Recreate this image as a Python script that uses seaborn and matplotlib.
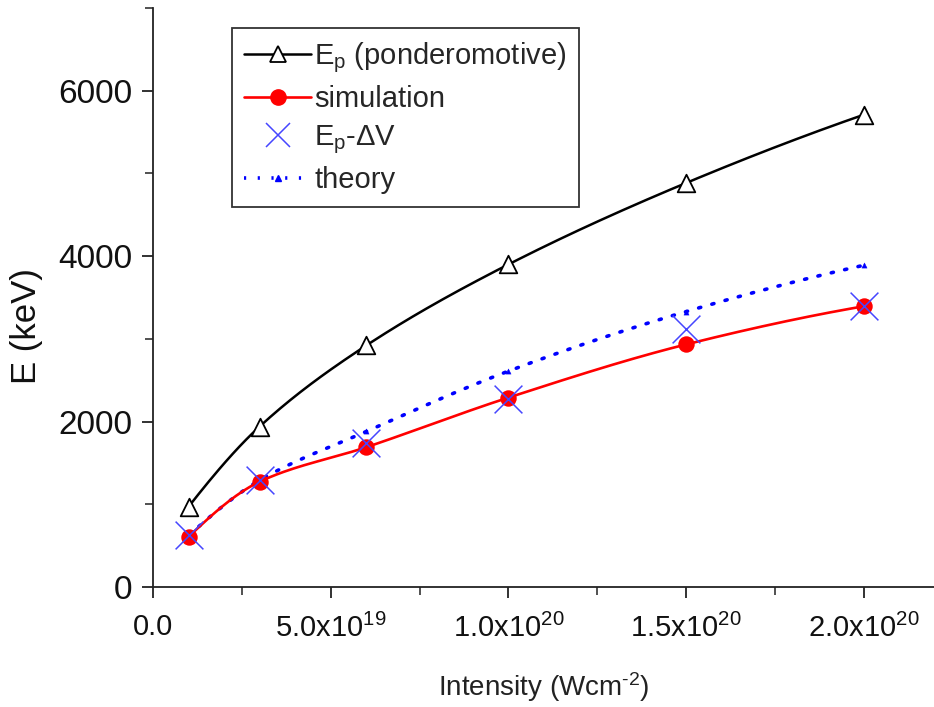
import numpy as np
import pandas as pd
import matplotlib
matplotlib.use("Agg")
import matplotlib.pyplot as plt
from matplotlib import font_manager
from matplotlib.lines import Line2D
from matplotlib.ticker import MultipleLocator, FixedLocator, FixedFormatter
import seaborn as sns

# ---- data ----
intensity = [1.0e19, 3.0e19, 6.0e19, 1.0e20, 1.5e20, 2.0e20]
e_ponderomotive = [970, 1940, 2920, 3900, 4885, 5710]
e_simulation = [606, 1273, 1690, 2290, 2933, 3394]
e_p_minus_dv = [630, 1297, 1745, 2267, 3115, 3394]
e_theory = [620, 1290, 1880, 2610, 3330, 3890]

x_tick_values = [0.0, 5.0e19, 1.0e20, 1.5e20, 2.0e20]
x_tick_labels = ["0.0", "5.0x10$^{19}$", "1.0x10$^{20}$", "1.5x10$^{20}$", "2.0x10$^{20}$"]
y_tick_values = [0, 2000, 4000, 6000]

sns.set_theme(style="ticks")

names = {f.name for f in font_manager.fontManager.ttflist}
regular = "Liberation Sans" if "Liberation Sans" in names else "DejaVu Sans"
plt.rcParams["font.family"] = [regular, "DejaVu Sans"]
plt.rcParams["mathtext.fontset"] = "custom"
plt.rcParams["mathtext.rm"] = regular
plt.rcParams["mathtext.it"] = regular
plt.rcParams["mathtext.default"] = "regular"


def smooth(xs, ys, n=200):
    """Monotone cubic (PCHIP) curve through the given points."""
    x = np.asarray(xs, float) / 1e19
    y = np.asarray(ys, float)
    h = np.diff(x)
    d = np.diff(y) / h
    k = len(x)
    m = np.zeros(k)
    for i in range(1, k - 1):
        if d[i - 1] * d[i] > 0:
            w1 = 2 * h[i] + h[i - 1]
            w2 = h[i] + 2 * h[i - 1]
            m[i] = (w1 + w2) / (w1 / d[i - 1] + w2 / d[i])
    m[0] = ((2 * h[0] + h[1]) * d[0] - h[0] * d[1]) / (h[0] + h[1])
    if np.sign(m[0]) != np.sign(d[0]):
        m[0] = 0
    m[-1] = ((2 * h[-1] + h[-2]) * d[-1] - h[-1] * d[-2]) / (h[-1] + h[-2])
    if np.sign(m[-1]) != np.sign(d[-1]):
        m[-1] = 0
    xx = np.linspace(x[0], x[-1], n)
    idx = np.clip(np.searchsorted(x, xx) - 1, 0, k - 2)
    hh = h[idx]
    t = (xx - x[idx]) / hh
    h00 = 2 * t ** 3 - 3 * t ** 2 + 1
    h10 = t ** 3 - 2 * t ** 2 + t
    h01 = -2 * t ** 3 + 3 * t ** 2
    h11 = t ** 3 - t ** 2
    yy = h00 * y[idx] + h10 * hh * m[idx] + h01 * y[idx + 1] + h11 * hh * m[idx + 1]
    return xx * 1e19, yy


fig = plt.figure(figsize=(9.34, 7.07), dpi=100)
ax = fig.add_axes([153 / 934, 120 / 707, 782 / 934, 579 / 707])

black = "#000000"
red = "#ff0000"
blue = "#0000ff"
xblue = "#4646ff"
dots = (0, (0.6, 3.2))

# smooth connecting curves
sx, sy = smooth(intensity, e_ponderomotive)
sns.lineplot(x=sx, y=sy, ax=ax, color=black, lw=1.8, sort=False)
sx, sy = smooth(intensity, e_theory)
sns.lineplot(x=sx, y=sy, ax=ax, color=blue, lw=2.6, sort=False, linestyle=dots,
             dash_capstyle="round")
sx, sy = smooth(intensity, e_simulation)
sns.lineplot(x=sx, y=sy, ax=ax, color=red, lw=1.9, sort=False)

# markers
df = pd.DataFrame({"I": intensity, "Ep": e_ponderomotive, "sim": e_simulation,
                   "dv": e_p_minus_dv, "th": e_theory})
sns.scatterplot(data=df, x="I", y="th", ax=ax, marker="^", s=14, color=blue,
                edgecolor=blue, zorder=3)
sns.scatterplot(data=df, x="I", y="Ep", ax=ax, marker="^", s=160, color="white",
                edgecolor=black, linewidth=1.3, zorder=4)
sns.scatterplot(data=df, x="I", y="sim", ax=ax, marker="o", s=140, color=red,
                edgecolor=red, linewidth=0, zorder=4)
sns.scatterplot(data=df, x="I", y="dv", ax=ax, marker="x", s=400, color=xblue,
                linewidth=1.1, zorder=5)

# axes
ax.set_xlim(0, 2.2e20)
ax.set_ylim(0, 7000)
sns.despine(ax=ax)
for s in ("left", "bottom"):
    ax.spines[s].set_linewidth(1.3)
    ax.spines[s].set_color("#222222")

ax.xaxis.set_major_locator(FixedLocator(x_tick_values))
ax.xaxis.set_major_formatter(FixedFormatter(x_tick_labels))
ax.xaxis.set_minor_locator(MultipleLocator(2.5e19))
ax.yaxis.set_major_locator(FixedLocator(y_tick_values))
ax.yaxis.set_minor_locator(MultipleLocator(1000))
ax.tick_params(which="major", direction="out", length=8, width=1.3, color="#222222")
ax.tick_params(which="minor", direction="out", length=6, width=1.1, color="#222222")
ax.tick_params(axis="y", labelsize=24, pad=7, labelcolor="#111111")
ax.tick_params(axis="x", labelsize=21, pad=11, labelcolor="#111111")

ax.set_xlabel("Intensity (Wcm$^{\\text{-}2}$)", fontsize=20, labelpad=20, color="#222222")
ax.set_ylabel("E (keV)", fontsize=25, color="#111111")
ax.yaxis.set_label_coords(-0.1407, 0.45)

handles = [
    Line2D([], [], color=black, lw=1.8, marker="^", markersize=11,
           markerfacecolor="white", markeredgecolor=black, markeredgewidth=1.3),
    Line2D([], [], color=red, lw=1.9, marker="o", markersize=11,
           markerfacecolor=red, markeredgecolor=red),
    Line2D([], [], color=xblue, lw=0, marker="x", markersize=17, markeredgewidth=1.1),
    Line2D([], [], color=blue, lw=2.6, linestyle=dots, marker="^",
           markersize=5, markerfacecolor=blue, markeredgecolor=blue),
]
labels = ["E$_\\mathrm{p}$ (ponderomotive)", "simulation", "E$_\\mathrm{p}$-\u0394V", "theory"]
leg = ax.legend(handles, labels, loc="upper left", bbox_to_anchor=(79 / 782, 1 - 20 / 579),
                fontsize=21, frameon=True, fancybox=False, framealpha=1,
                edgecolor="#333333", handlelength=2.3, handletextpad=0.1,
                labelspacing=0.35, borderpad=0.42, borderaxespad=0)
leg.get_frame().set_linewidth(1.3)

fig.savefig("out.png", dpi=100)
